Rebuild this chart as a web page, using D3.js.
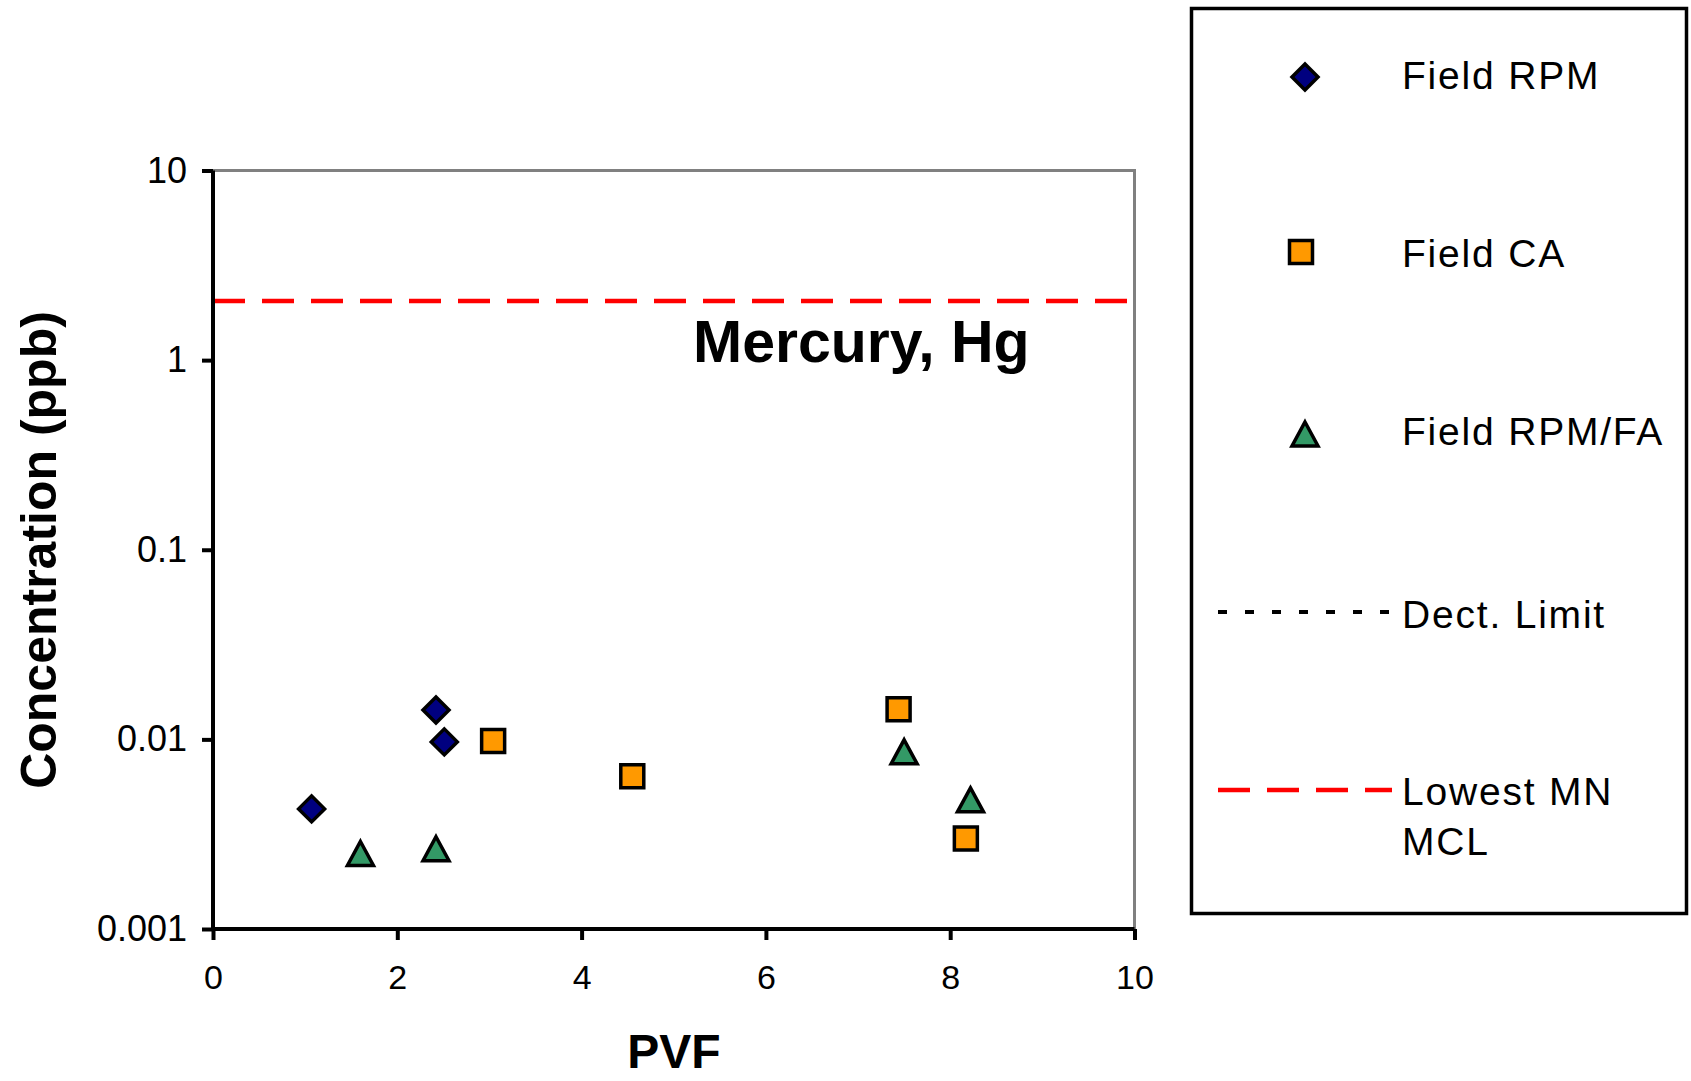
<!DOCTYPE html>
<html lang="en">
<head>
  <meta charset="UTF-8">
  <title>Mercury, Hg - Concentration vs PVF</title>
  <script src="https://cdnjs.cloudflare.com/ajax/libs/d3/7.8.5/d3.min.js"></script>
  <style>
    html, body { margin: 0; padding: 0; background: #fff; }
    svg { display: block; font-family: "Liberation Sans", Arial, sans-serif; }
    .axis text { font-size: 36px; fill: #000; }
  </style>
</head>
<body>
  <div id="chart"></div>

  <script>
    // data
    const rpmX = [1.07, 2.42, 2.51];
    const rpmY = [0.0043, 0.0143, 0.0097];
    const caX = [3.04, 4.55, 7.44, 8.17];
    const caY = [0.0098, 0.0064, 0.0144, 0.0030];
    const faX = [1.60, 2.42, 7.50, 8.22];
    const faY = [0.0025, 0.00265, 0.0086, 0.0048];
    const mclValue = 2.05;
    const xTicks = [0, 2, 4, 6, 8, 10];
    const yTicks = [0.001, 0.01, 0.1, 1, 10];
    const legendLabels = ["Field RPM", "Field CA", "Field RPM/FA", "Dect. Limit", "Lowest MN MCL"];

    const W = 1691, H = 1081;
    const plot = {left: 213, right: 1134.5, top: 170.5, bottom: 929};

    const svg = d3.select("#chart").append("svg")
      .attr("width", W)
      .attr("height", H);

    const x = d3.scaleLinear().domain([0, 10]).range([plot.left, plot.right]);
    const y = d3.scaleLog().domain([0.001, 10]).range([plot.bottom, plot.top]);

    // marker shapes, centred on their bounding box like Excel
    function diamond(r) { return `M0,${-r}L${r},0L0,${r}L${-r},0Z`; }
    function square(s) { return `M${-s/2},${-s/2}h${s}v${s}h${-s}Z`; }
    function triangle(w, h) { return `M0,${-h/2}L${w/2},${h/2}L${-w/2},${h/2}Z`; }

    const series = [
      {xs: rpmX, ys: rpmY, path: diamond(13), fill: "#000080"},
      {xs: caX, ys: caY, path: square(23), fill: "#FF9900"},
      {xs: faX, ys: faY, path: triangle(26, 24), fill: "#339966"}
    ];

    // gray top / right frame
    svg.append("path")
      .attr("d", `M${plot.left},${plot.top}H${plot.right}V${plot.bottom}`)
      .attr("fill", "none")
      .attr("stroke", "#808080")
      .attr("stroke-width", 3);

    // MCL line
    svg.append("line")
      .attr("x1", plot.left).attr("x2", plot.right)
      .attr("y1", y(mclValue)).attr("y2", y(mclValue))
      .attr("stroke", "#FF0000")
      .attr("stroke-width", 4.5)
      .attr("stroke-dasharray", "32,17");

    // axes
    const yAxis = svg.append("g")
      .attr("class", "axis")
      .attr("transform", `translate(${plot.left},0)`)
      .call(d3.axisLeft(y).tickValues(yTicks).tickFormat(d3.format("~g"))
        .tickSize(11).tickSizeOuter(0).tickPadding(15));

    const xAxis = svg.append("g")
      .attr("class", "axis")
      .attr("transform", `translate(0,${plot.bottom})`)
      .call(d3.axisBottom(x).tickValues(xTicks).tickFormat(d3.format("d"))
        .tickSize(11).tickSizeOuter(0).tickPadding(25));

    svg.selectAll(".axis .domain").attr("stroke", "#000").attr("stroke-width", 4);
    svg.selectAll(".axis .tick line").attr("stroke", "#000").attr("stroke-width", 4);
    xAxis.selectAll("text").style("font-size", "34px");
    // let the two axis lines meet at the corner
    yAxis.select(".domain").attr("d", `M0,${plot.bottom + 2}V${plot.top}`);
    xAxis.select(".domain").attr("d", `M${plot.left - 2},0H${plot.right}`);

    // points
    series.forEach(s => {
      svg.append("g").selectAll("path")
        .data(s.xs.map((v, i) => [v, s.ys[i]]))
        .join("path")
        .attr("transform", d => `translate(${x(d[0])},${y(d[1])})`)
        .attr("d", s.path)
        .attr("fill", s.fill)
        .attr("stroke", "#000")
        .attr("stroke-width", 3.5);
    });

    // titles
    svg.append("text")
      .attr("x", 693).attr("y", 362)
      .style("font-size", "59px").style("font-weight", "bold")
      .text("Mercury, Hg");

    svg.append("text")
      .attr("transform", "translate(56,550) rotate(-90)")
      .attr("text-anchor", "middle")
      .style("font-size", "50px").style("font-weight", "bold")
      .text("Concentration (ppb)");

    svg.append("text")
      .attr("x", 674).attr("y", 1068)
      .attr("text-anchor", "middle")
      .style("font-size", "48px").style("font-weight", "bold")
      .text("PVF");

    // legend
    const legend = svg.append("g");
    legend.append("rect")
      .attr("x", 1191.5).attr("y", 8.5)
      .attr("width", 495).attr("height", 905)
      .attr("fill", "none")
      .attr("stroke", "#000")
      .attr("stroke-width", 3.5);

    const markerRows = [77, 252, 434];
    series.forEach((s, i) => {
      legend.append("path")
        .attr("transform", `translate(${i === 1 ? 1301 : 1305},${markerRows[i]})`)
        .attr("d", s.path)
        .attr("fill", s.fill)
        .attr("stroke", "#000")
        .attr("stroke-width", 3.5);
    });

    legend.append("line")
      .attr("x1", 1218).attr("x2", 1392)
      .attr("y1", 612).attr("y2", 612)
      .attr("stroke", "#000").attr("stroke-width", 4)
      .attr("stroke-dasharray", "9,18");
    legend.append("line")
      .attr("x1", 1218).attr("x2", 1392)
      .attr("y1", 790).attr("y2", 790)
      .attr("stroke", "#FF0000").attr("stroke-width", 4.5)
      .attr("stroke-dasharray", "32,17");

    const textRows = [
      {t: legendLabels[0], y: 89},
      {t: legendLabels[1], y: 267},
      {t: legendLabels[2], y: 445},
      {t: legendLabels[3], y: 628},
      {t: "Lowest MN", y: 805},
      {t: "MCL", y: 855}
    ];
    legend.selectAll("text.lab")
      .data(textRows)
      .join("text")
      .attr("class", "lab")
      .attr("x", 1402).attr("y", d => d.y)
      .style("font-size", "39px")
      .style("letter-spacing", "1.8px")
      .text(d => d.t);
  </script>
</body>
</html>
